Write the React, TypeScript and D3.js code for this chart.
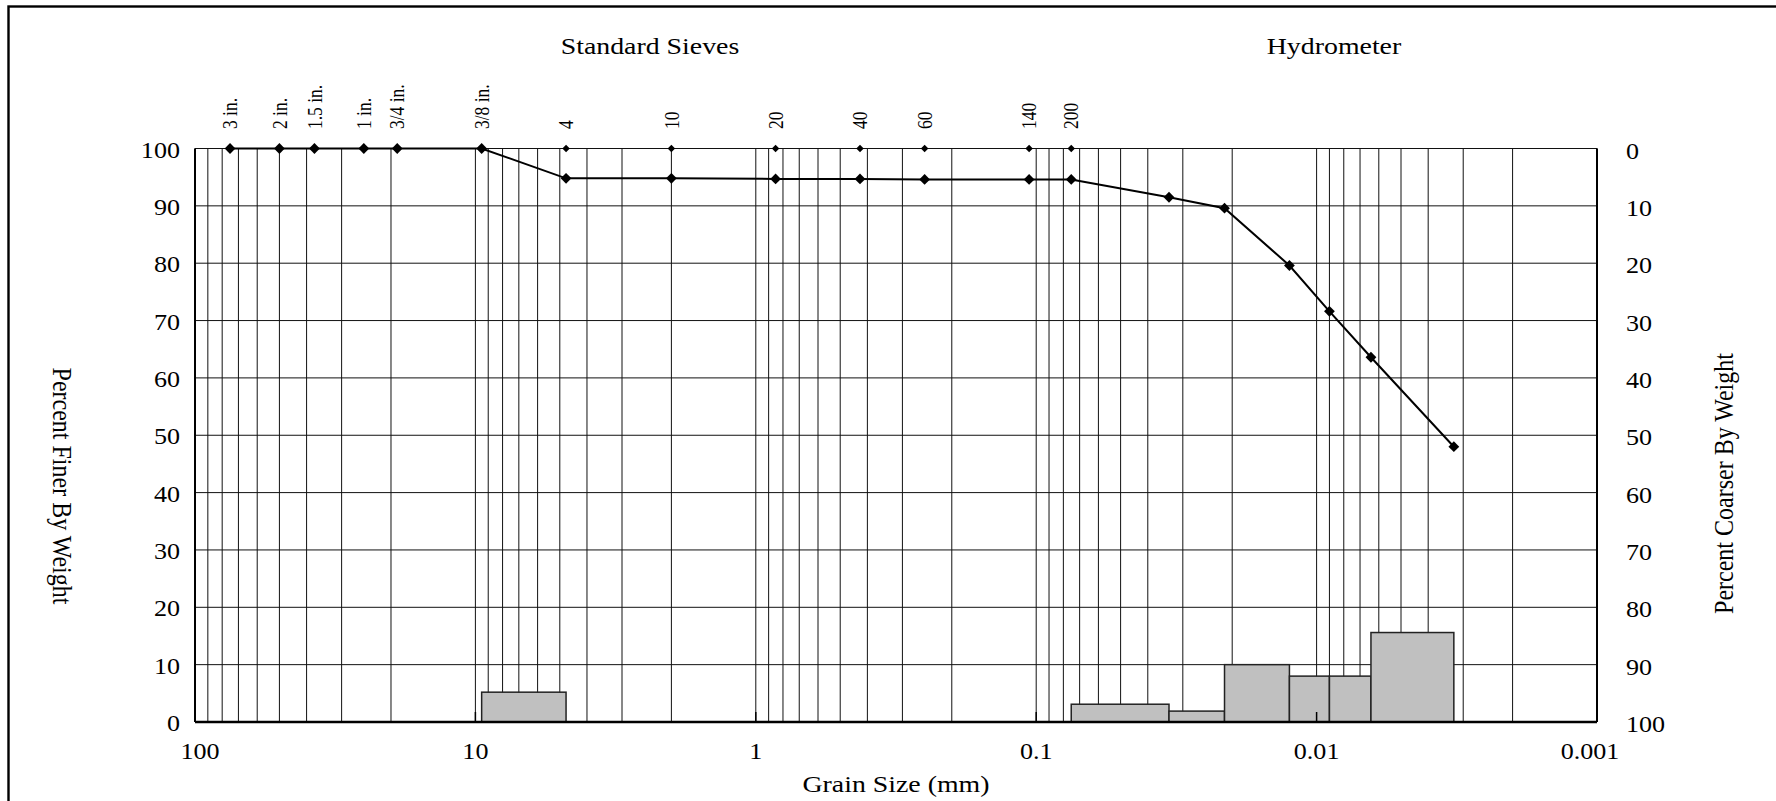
import React from "react";
import * as d3 from "d3";

// ---------- data ----------
const sieveNames = ["3 in.", "2 in.", "1.5 in.", "1 in.", "3/4 in.", "3/8 in.", "4", "10", "20", "40", "60", "140", "200"];
const sieveSizesMm = [75, 50, 37.5, 25, 19, 9.5, 4.75, 2.0, 0.85, 0.425, 0.25, 0.106, 0.075];
const sievePercentFiner = [100, 100, 100, 100, 100, 100, 94.8, 94.8, 94.7, 94.7, 94.6, 94.6, 94.6];
const hydroSizesMm = [0.0336, 0.0213, 0.0125, 0.009, 0.0064, 0.00324];
const hydroPercentFiner = [91.5, 89.6, 79.6, 71.6, 63.6, 48.0];

const barFromMm = [9.5, 0.075, 0.0336, 0.0213, 0.0125, 0.009, 0.0064];
const barToMm = [4.75, 0.0336, 0.0213, 0.0125, 0.009, 0.0064, 0.00324];
const barPercentRetained = [5.2, 3.1, 1.9, 10.0, 8.0, 8.0, 15.6];

const xMajorTicks = [100, 10, 1, 0.1, 0.01, 0.001];
const xMajorLabels = ["100", "10", "1", "0.1", "0.01", "0.001"];
const yTicks = [0, 10, 20, 30, 40, 50, 60, 70, 80, 90, 100];
const yLeftLabels = ["0", "10", "20", "30", "40", "50", "60", "70", "80", "90", "100"];
const yRightLabels = ["100", "90", "80", "70", "60", "50", "40", "30", "20", "10", "0"];

// ---------- layout ----------
const W = 1776;
const H = 801;
const L = 195, R = 1597, T = 148.5, B = 722;
const SX = 1.16;
const FONT = "'Liberation Serif', 'Times New Roman', serif";

const x = d3.scaleLog().domain([100, 0.001]).range([L, R]);
const y = d3.scaleLinear().domain([0, 100]).range([B, T]);

function SText(props: any) {
  const { x: tx, y: ty, rotate, anchor, size, dy, children } = props;
  const tr = `translate(${tx},${ty}) scale(${SX},1)` + (rotate ? ` rotate(${rotate})` : "");
  return (
    <text transform={tr} textAnchor={anchor || "middle"} fontSize={size} dy={dy || 0} fontFamily={FONT} fill="#000">
      {children}
    </text>
  );
}

export default function App() {
  const gridX = x.ticks();
  const points = [
    ...sieveSizesMm.map((s, i) => ({ s, p: sievePercentFiner[i] })),
    ...hydroSizesMm.map((s, i) => ({ s, p: hydroPercentFiner[i] })),
  ];
  const line = d3.line<any>().x((d) => x(d.s)).y((d) => y(d.p));
  const bigSym = d3.symbol().type(d3.symbolSquare).size(58)();
  const smallSym = d3.symbol().type(d3.symbolSquare).size(28)();

  return (
    <svg width={W} height={H} style={{ position: "absolute", left: 0, top: 0, background: "#fff" }}>
      <rect x={0} y={0} width={W} height={H} fill="#fff" />
      {/* outer chart border */}
      <rect x={8.5} y={6.5} width={W + 50} height={H + 50} fill="none" stroke="#000" strokeWidth={2.4} />

      {/* vertical grid */}
      {gridX.map((v, i) => (
        <line key={"gx" + i} x1={x(v)} x2={x(v)} y1={T} y2={B} stroke="#111" strokeWidth={1} />
      ))}
      {/* horizontal grid */}
      {yTicks.map((v, i) => (
        <line key={"gy" + i} x1={L} x2={R} y1={y(v)} y2={y(v)} stroke="#111" strokeWidth={1} />
      ))}

      {/* bars */}
      {barPercentRetained.map((p, i) => (
        <rect
          key={"b" + i}
          x={x(barFromMm[i])}
          y={y(p)}
          width={x(barToMm[i]) - x(barFromMm[i])}
          height={y(0) - y(p)}
          fill="#c0c0c0"
          stroke="#222"
          strokeWidth={1.5}
        />
      ))}

      {/* plot frame */}
      <line x1={L} x2={R} y1={T} y2={T} stroke="#111" strokeWidth={1.2} />
      <line x1={L} x2={L} y1={T} y2={B} stroke="#000" strokeWidth={2} />
      <line x1={R} x2={R} y1={T} y2={B} stroke="#000" strokeWidth={2} />
      <line x1={L} x2={R} y1={B} y2={B} stroke="#000" strokeWidth={2.5} />
      {xMajorTicks.map((v, i) => (
        <line key={"tx" + i} x1={x(v)} x2={x(v)} y1={B} y2={B - 10} stroke="#000" strokeWidth={1.5} />
      ))}

      {/* data line */}
      <path d={line(points) || ""} fill="none" stroke="#000" strokeWidth={2} />

      {/* sieve markers at top */}
      {sieveSizesMm.map((s, i) => (
        <path key={"sm" + i} d={smallSym || ""} transform={`translate(${x(s)},${y(100)}) rotate(45)`} fill="#000" />
      ))}
      {/* data markers */}
      {points.map((d, i) => (
        <path key={"m" + i} d={bigSym || ""} transform={`translate(${x(d.s)},${y(d.p)}) rotate(45)`} fill="#000" />
      ))}

      {/* sieve labels */}
      {sieveNames.map((n, i) => (
        <SText key={"sl" + i} x={x(sieveSizesMm[i])} y={129} rotate={-90} anchor="start" size={17.5} dy="0.35em">
          {n}
        </SText>
      ))}

      {/* headings */}
      <SText x={650} y={54} size={24}>Standard Sieves</SText>
      <SText x={1334} y={54} size={24}>Hydrometer</SText>

      {/* left axis labels */}
      {yTicks.map((v, i) => (
        <SText key={"yl" + i} x={180} y={y(v)} anchor="end" size={22.5} dy="0.4em">
          {yLeftLabels[i]}
        </SText>
      ))}
      {/* right axis labels */}
      {yTicks.map((v, i) => (
        <SText key={"yr" + i} x={1626} y={y(v)} anchor="start" size={22.5} dy="0.45em">
          {yRightLabels[i]}
        </SText>
      ))}
      {/* x labels */}
      {xMajorTicks.map((v, i) => {
        const shift = i === 0 ? 5 : i === xMajorTicks.length - 1 ? -7 : 0;
        return (
          <SText key={"xl" + i} x={x(v) + shift} y={759} size={22.5}>
            {xMajorLabels[i]}
          </SText>
        );
      })}

      {/* axis titles */}
      <SText x={896} y={792} size={24}>Grain Size (mm)</SText>
      <SText x={63} y={486} rotate={90} size={24} dy="0.35em">Percent Finer By Weight</SText>
      <SText x={1723} y={483.5} rotate={-90} size={24} dy="0.35em">Percent Coarser By Weight</SText>
    </svg>
  );
}
